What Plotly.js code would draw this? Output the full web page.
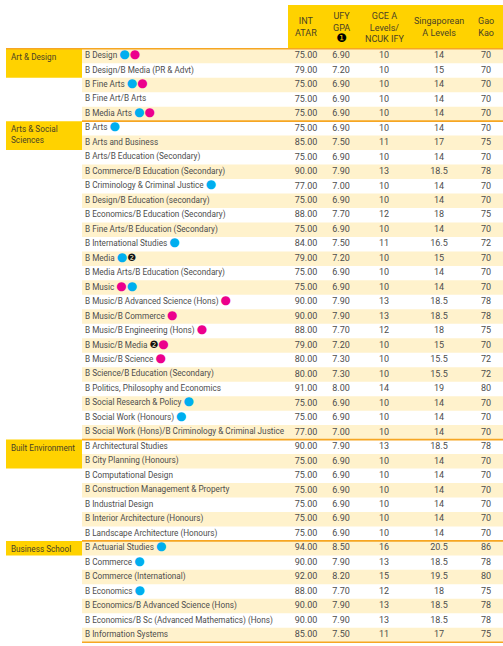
<!DOCTYPE html>
<html>
<head>
<meta charset="utf-8">
<script src="https://cdn.plot.ly/plotly-3.0.1.min.js"></script>
<style>html,body{margin:0;padding:0;background:#fff;}#chart{width:503px;height:646px;}</style>
</head>
<body>
<div id="chart"></div>
<script>
// ---------- DATA ----------
const groups = ["Art & Design", "Arts & Social<br>Sciences", "Built Environment", "Business School"];
const groupSizes = [5, 22, 7, 7];
const groupBoxRows = [2, 2, 2, 1];

const columnHeaders = ["INT<br>ATAR", "UFY<br>GPA<br><span style='font-size:12px;color:#000'>❶</span>", "GCE A<br>Levels/<br>NCUK IFY", "Singaporean<br>A Levels", "Gao<br>Kao"];

const programs = [
  "B Design", "B Design/B Media (PR & Advt)", "B Fine Arts", "B Fine Art/B Arts", "B Media Arts",
  "B Arts", "B Arts and Business", "B Arts/B Education (Secondary)", "B Commerce/B Education (Secondary)",
  "B Criminology & Criminal Justice", "B Design/B Education (secondary)", "B Economics/B Education (Secondary)",
  "B Fine Arts/B Education (Secondary)", "B International Studies", "B Media", "B Media Arts/B Education (Secondary)",
  "B Music", "B Music/B Advanced Science (Hons)", "B Music/B Commerce", "B Music/B Engineering (Hons)",
  "B Music/B Media", "B Music/B Science", "B Science/B Education (Secondary)", "B Politics, Philosophy and Economics",
  "B Social Research & Policy", "B Social Work (Honours)", "B Social Work (Hons)/B Criminology & Criminal Justice",
  "B Architectural Studies", "B City Planning (Honours)", "B Computational Design", "B Construction Management & Property",
  "B Industrial Design", "B Interior Architecture (Honours)", "B Landscape Architecture (Honours)",
  "B Actuarial Studies", "B Commerce", "B Commerce (International)", "B Economics",
  "B Economics/B Advanced Science (Hons)", "B Economics/B Sc (Advanced Mathematics) (Hons)", "B Information Systems"
];
// c = cyan dot, m = magenta dot, 2 = note 2
const markers = [
  "cm", "", "cm", "", "cm",
  "c", "", "", "", "c", "", "", "", "c", "c2", "", "mc", "m", "m", "m", "2m", "m", "", "", "c", "c", "",
  "", "", "", "", "", "", "",
  "c", "c", "", "c", "", "", ""
];
const intAtar = [75,79,75,75,75, 75,85,75,90,77,75,88,75,84,79,75,75,90,90,88,79,80,80,91,75,75,77, 90,75,75,75,75,75,75, 94,90,92,88,90,90,85];
const ufyGpa  = [6.9,7.2,6.9,6.9,6.9, 6.9,7.5,6.9,7.9,7.0,6.9,7.7,6.9,7.5,7.2,6.9,6.9,7.9,7.9,7.7,7.2,7.3,7.3,8.0,6.9,6.9,7.0, 7.9,6.9,6.9,6.9,6.9,6.9,6.9, 8.5,7.9,8.2,7.7,7.9,7.9,7.5];
const gceA    = [10,10,10,10,10, 10,11,10,13,10,10,12,10,11,10,10,10,13,13,12,10,10,10,14,10,10,10, 13,10,10,10,10,10,10, 16,13,15,12,13,13,11];
const singA   = [14,15,14,14,14, 14,17,14,18.5,14,14,18,14,16.5,15,14,14,18.5,18.5,18,15,15.5,15.5,19,14,14,14, 18.5,14,14,14,14,14,14, 20.5,18.5,19.5,18,18.5,18.5,17];
const gaoKao  = [70,70,70,70,70, 70,75,70,78,70,70,75,70,72,70,70,70,78,78,75,70,72,72,80,70,70,70, 78,70,70,70,70,70,70, 86,78,80,75,78,78,75];

// ---------- STYLE / LAYOUT CONSTANTS ----------
const FONT = "Roboto, 'DejaVu Sans', sans-serif";
const YELLOW = "#FFD200", CREAM = "#FFF2CC", ORANGE = "#F6A623", TXT = "#4d4d4d", HDR = "#4a4226";
const colX = [306, 341, 384, 439, 486];
const progX = 85;
const rowH = 14.475, row0 = 56, H = 646, W = 503;
const yTop = -row0 / rowH, yBottom = (H - row0) / rowH;

const dotSpan = {
  c: "<span style='color:#00AEEF;font-size:12px'>●</span>",
  m: "<span style='color:#EC008C;font-size:12px'>●</span>",
  "2": "<span style='color:#111;font-size:10px'>❷</span>"
};

const n = programs.length;
const rows = programs.map((_, i) => i);
const progText = programs.map((p, i) => {
  const mk = markers[i] || "";
  if (!mk) return p;
  return p + " " + mk.split("").map(k => dotSpan[k]).join("");
});

const shapes = [];
rows.forEach(i => {
  if (i % 2 === 0) shapes.push({type: "rect", xref: "x", yref: "y", x0: 82, x1: W, y0: i - 0.5, y1: i + 0.5, fillcolor: CREAM, line: {width: 0}, layer: "below"});
});
shapes.push({type: "rect", xref: "x", yref: "y", x0: 288, x1: W, y0: (5 - row0) / rowH, y1: -0.5, fillcolor: YELLOW, line: {width: 0}, layer: "below"});

const annotations = [];
let start = 0;
groups.forEach((g, gi) => {
  shapes.push({type: "rect", xref: "x", yref: "y", x0: 6, x1: 82, y0: start - 0.5, y1: start - 0.5 + groupBoxRows[gi], fillcolor: YELLOW, line: {width: 0}, layer: "below"});
  shapes.push({type: "line", xref: "x", yref: "y", x0: gi === 0 ? 6 : 82, x1: W, y0: start - 0.5, y1: start - 0.5, line: {color: ORANGE, width: 1.6}});
  annotations.push({xref: "x", yref: "y", x: 9, y: start - 0.5, xanchor: "left", yanchor: "top", yshift: -1, align: "left",
    text: g, showarrow: false, font: {family: FONT, size: 8.2, color: HDR}});
  start += groupSizes[gi];
});
shapes.push({type: "line", xref: "x", yref: "y", x0: 82, x1: W, y0: n - 0.5, y1: n - 0.5, line: {color: ORANGE, width: 1.6}});

columnHeaders.forEach((h, ci) => {
  annotations.push({xref: "x", yref: "y", x: colX[ci], y: ((27 - row0) / rowH) + (ci === 1 ? 0.05 : 0), xanchor: "center", yanchor: "middle", align: "center",
    text: h, showarrow: false, font: {family: FONT, size: 9, color: HDR}});
});

const numCols = [
  intAtar.map(v => v.toFixed(2)),
  ufyGpa.map(v => v.toFixed(2)),
  gceA.map(v => String(v)),
  singA.map(v => String(v)),
  gaoKao.map(v => String(v))
];

const traces = [{
  type: "scatter", mode: "text", x: rows.map(() => progX), y: rows, text: progText,
  textposition: "middle right", textfont: {family: FONT, size: 8.2, color: TXT}, hoverinfo: "skip", cliponaxis: false
}];
numCols.forEach((col, ci) => {
  traces.push({
    type: "scatter", mode: "text", x: rows.map(() => colX[ci]), y: rows, text: col,
    textposition: "middle center", textfont: {family: FONT, size: 9, color: TXT}, hoverinfo: "skip", cliponaxis: false
  });
});

const layout = {
  width: W, height: H, margin: {l: 0, r: 0, t: 0, b: 0},
  paper_bgcolor: "#fff", plot_bgcolor: "#fff", showlegend: false,
  xaxis: {range: [0, W], visible: false, fixedrange: true},
  yaxis: {range: [yBottom, yTop], visible: false, fixedrange: true},
  shapes: shapes, annotations: annotations
};
Plotly.newPlot("chart", traces, layout, {displayModeBar: false, staticPlot: true});
</script>
</body>
</html>
